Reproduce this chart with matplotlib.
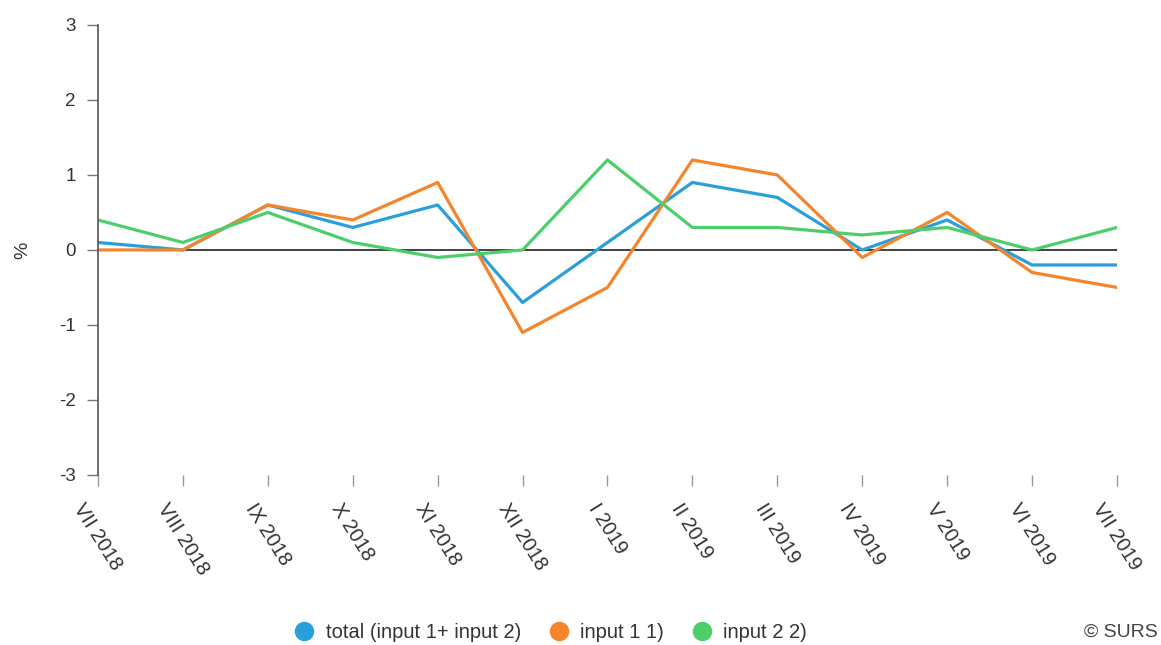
import matplotlib.pyplot as plt
from matplotlib.lines import Line2D

months = ["VII 2018", "VIII 2018", "IX 2018", "X 2018", "XI 2018", "XII 2018", "I 2019",
          "II 2019", "III 2019", "IV 2019", "V 2019", "VI 2019", "VII 2019"]
total = [0.1, 0.0, 0.6, 0.3, 0.6, -0.7, 0.1, 0.9, 0.7, 0.0, 0.4, -0.2, -0.2]
input1 = [0.0, 0.0, 0.6, 0.4, 0.9, -1.1, -0.5, 1.2, 1.0, -0.1, 0.5, -0.3, -0.5]
input2 = [0.4, 0.1, 0.5, 0.1, -0.1, 0.0, 1.2, 0.3, 0.3, 0.2, 0.3, 0.0, 0.3]

series = [
    ("total (input 1+ input 2)", total, "#2b9fd9"),
    ("input 1 1)", input1, "#f5852a"),
    ("input 2 2)", input2, "#4ccf6a"),
]

plt.rcParams["font.family"] = ["Liberation Sans", "DejaVu Sans"]
plt.rcParams["axes.unicode_minus"] = False

fig = plt.figure(figsize=(11.61, 6.45), dpi=100)
ax = fig.add_axes([0.0844, 0.2636, 0.8777, 0.6977])

x = list(range(len(months)))
ax.axhline(0, color="#222222", lw=1.2, zorder=1)
for name, vals, col in series:
    ax.plot(x, vals, color=col, lw=2.3, zorder=2)

ax.set_xlim(0, len(months) - 1)
ax.set_ylim(-3, 3)
ax.set_yticks([-3, -2, -1, 0, 1, 2, 3])
ax.set_xticks(x)
ax.set_xticklabels(months, rotation=-58, ha="center", va="top")

for s in ["top", "right"]:
    ax.spines[s].set_visible(False)
ax.spines["bottom"].set_visible(False)
ax.spines["left"].set_color("#555555")
ax.spines["left"].set_linewidth(1.2)

ax.tick_params(axis="y", length=8, width=1, color="#777777", labelsize=13.5,
               labelcolor="#333333", pad=8)
ax.tick_params(axis="x", length=8, width=1, color="#999999", labelsize=14.5,
               labelcolor="#333333", pad=10, direction="out")
ax.set_ylabel("%", fontsize=14, color="#333333", labelpad=20)

handles = [Line2D([], [], marker="o", ls="", markersize=13, color=c) for _, _, c in series]
fig.legend(handles, [n for n, _, _ in series], loc="center", bbox_to_anchor=(0.47, 0.02),
           ncol=3, frameon=False, fontsize=14.5, handletextpad=0.05, columnspacing=0.9,
           labelcolor="#333333")
fig.text(0.997, 0.02, "© SURS", ha="right", va="center", fontsize=14, color="#444444")

fig.savefig("out.png", dpi=100)
